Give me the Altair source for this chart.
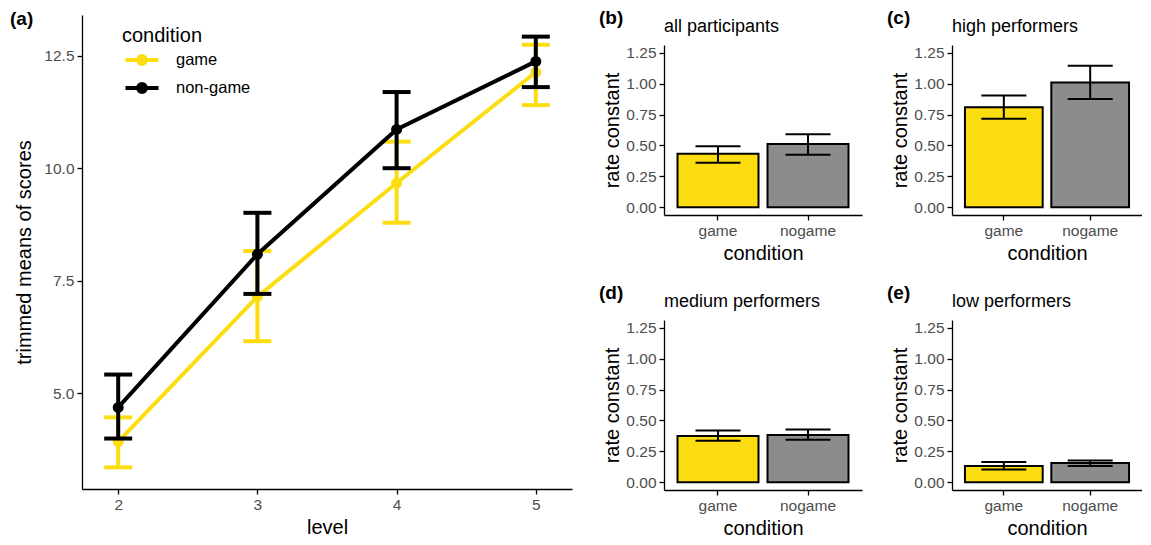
import altair as alt
import pandas as pd

# ---------------- data ----------------
levels = [2, 3, 4, 5]
game_mean = [3.93, 7.15, 9.67, 12.13]
game_lo = [3.36, 6.16, 8.79, 11.40]
game_hi = [4.47, 8.16, 10.59, 12.74]
nongame_mean = [4.69, 8.09, 10.86, 12.37]
nongame_lo = [4.00, 7.21, 10.00, 11.80]
nongame_hi = [5.42, 9.01, 11.69, 12.92]
conditions_a = ["game", "non-game"]

bar_conditions = ["game", "nogame"]
panel_labels = ["(b)", "(c)", "(d)", "(e)"]
panel_titles = ["all participants", "high performers", "medium performers", "low performers"]
rate_mean = [[0.432, 0.511], [0.81, 1.01], [0.374, 0.382], [0.131, 0.155]]
rate_lo = [[0.36, 0.425], [0.715, 0.875], [0.335, 0.343], [0.103, 0.131]]
rate_hi = [[0.493, 0.59], [0.904, 1.144], [0.419, 0.427], [0.163, 0.176]]

FONT = "Liberation Sans"
YELLOW = "#FCDD12"
GREY = "#8C8C8C"
LABEL_GREY = "#4D4D4D"

# ---------------- panel (a) ----------------
rows = []
for cond, m, lo, hi in [("game", game_mean, game_lo, game_hi),
                        ("non-game", nongame_mean, nongame_lo, nongame_hi)]:
    for lv, a, b, c in zip(levels, m, lo, hi):
        rows.append({"level": lv, "condition": cond, "mean": a, "lo": b, "hi": c})
dfa = pd.DataFrame(rows)

A_TOP = 5          # free band above plot area (for panel label)
A_H = 474          # plot-area height
A_W = 490

xs_a = alt.Scale(domain=[1.74, 5.26], nice=False, zero=False)
ys_a = alt.Scale(domain=[2.88, 13.4], nice=False, zero=False, range=[A_TOP + A_H, A_TOP])
cs_a = alt.Scale(domain=conditions_a, range=[YELLOW, "#000000"])

xa = alt.X("level:Q", scale=xs_a, axis=alt.Axis(values=levels, format="d", title="level"))
def ya(field):
    return alt.Y(f"{field}:Q", scale=ys_a,
                 axis=alt.Axis(values=[5, 7.5, 10, 12.5], format=".1f",
                               title="trimmed means of scores", titlePadding=9))

sym_path = ("M-1.5,0L1.5,0M-0.36,0A0.36,0.36,0,1,1,0.36,0"
            "A0.36,0.36,0,1,1,-0.36,0Z")
legend_a = alt.Legend(
    title="condition", orient="none", legendX=40, legendY=A_TOP + 11,
    titleFontSize=20, titleFont=FONT, titleColor="black", titleFontWeight="normal",
    titlePadding=1,
    labelFontSize=16.5, labelFont=FONT, labelColor="black",
    symbolType=sym_path, symbolSize=484, symbolStrokeWidth=4,
    symbolOffset=7, labelOffset=21, rowPadding=3,
)

layers_a = []
for k, cond in enumerate(conditions_a):
    base = alt.Chart(dfa).transform_filter(alt.datum.condition == cond)
    col = alt.Color("condition:N", scale=cs_a, legend=legend_a)
    col_nl = alt.Color("condition:N", scale=cs_a, legend=None)
    line = base.mark_line(strokeWidth=4).encode(x=xa, y=ya("mean"), color=col)
    pts = base.mark_point(filled=True, size=120, opacity=1).encode(x=xa, y=ya("mean"), color=col)
    rule = base.mark_rule(strokeWidth=4).encode(x=xa, y=ya("lo"), y2="hi:Q", color=col_nl)
    cap_lo = base.mark_tick(orient="horizontal", size=28, thickness=4, opacity=1).encode(
        x=xa, y=ya("lo"), color=col_nl)
    cap_hi = base.mark_tick(orient="horizontal", size=28, thickness=4, opacity=1).encode(
        x=xa, y=ya("hi"), color=col_nl)
    layers_a += [line, pts, rule, cap_lo, cap_hi]

label_a = alt.Chart(pd.DataFrame({"lab": ["(a)"]})).mark_text(
    align="left", baseline="middle", fontWeight="bold", fontSize=19, font=FONT, color="black"
).encode(x=alt.value(-72), y=alt.value(9), text="lab:N")

panel_a = alt.layer(*layers_a, label_a).properties(width=A_W, height=A_TOP + A_H)

# ---------------- bar panels ----------------
B_TOP = 35
B_H = 170

def bar_panel(i, width):
    df = pd.DataFrame({"condition": bar_conditions, "mean": rate_mean[i],
                       "lo": rate_lo[i], "hi": rate_hi[i]})
    base = alt.Chart(df)
    xb = alt.X("condition:N", sort=bar_conditions,
               scale=alt.Scale(paddingInner=0.1, paddingOuter=0.15),
               axis=alt.Axis(title="condition", labelAngle=0))
    ysc = alt.Scale(domain=[-0.0625, 1.3125], nice=False, zero=False,
                    range=[B_TOP + B_H, B_TOP])
    def yb(field):
        return alt.Y(f"{field}:Q", scale=ysc,
                     axis=alt.Axis(values=[0, 0.25, 0.5, 0.75, 1.0, 1.25], format=".2f",
                                   title="rate constant", titlePadding=3))
    bars = base.mark_bar(stroke="black", strokeWidth=2).encode(
        x=xb, y=yb("mean"), y2=alt.datum(0),
        color=alt.Color("condition:N", scale=alt.Scale(domain=bar_conditions, range=[YELLOW, GREY]),
                        legend=None))
    rule = base.mark_rule(color="black", strokeWidth=2).encode(x=xb, y=yb("lo"), y2="hi:Q")
    cap_lo = base.mark_tick(orient="horizontal", size=45, thickness=2, color="black", opacity=1).encode(
        x=xb, y=yb("lo"))
    cap_hi = base.mark_tick(orient="horizontal", size=45, thickness=2, color="black", opacity=1).encode(
        x=xb, y=yb("hi"))
    txt = pd.DataFrame({"lab": [panel_labels[i]], "ttl": [panel_titles[i]]})
    lab = alt.Chart(txt).mark_text(
        align="left", baseline="middle", fontWeight="bold", fontSize=19, font=FONT, color="black"
    ).encode(x=alt.value(-65), y=alt.value(B_TOP - 27), text="lab:N")
    ttl = alt.Chart(txt).mark_text(
        align="left", baseline="middle", fontSize=18, font=FONT, color="black"
    ).encode(x=alt.value(0), y=alt.value(B_TOP - 18), text="ttl:N")
    return alt.layer(bars, rule, cap_lo, cap_hi, lab, ttl).properties(
        width=width, height=B_TOP + B_H)

pb = bar_panel(0, 198)
pc = bar_panel(1, 190)
pd_ = bar_panel(2, 198)
pe = bar_panel(3, 190)

right = alt.vconcat(
    alt.hconcat(pb, pc, spacing=25),
    alt.hconcat(pd_, pe, spacing=25),
    spacing=20,
)

chart = alt.hconcat(panel_a, right, spacing=27).resolve_scale(
    color="independent"
).properties(
    padding={"top": 1, "left": 2, "right": 0, "bottom": 0}
).configure_view(stroke=None).configure_axis(
    grid=False,
    domainColor="black", domainWidth=1.3,
    tickColor="black", tickWidth=1.3, tickSize=5,
    labelColor=LABEL_GREY, labelFont=FONT, labelFontSize=15.5, labelPadding=3,
    titleColor="black", titleFont=FONT, titleFontSize=20, titleFontWeight="normal", titlePadding=5,
).configure_text(font=FONT)

chart.save("out.html", embed_options={"renderer": "svg", "actions": False})
